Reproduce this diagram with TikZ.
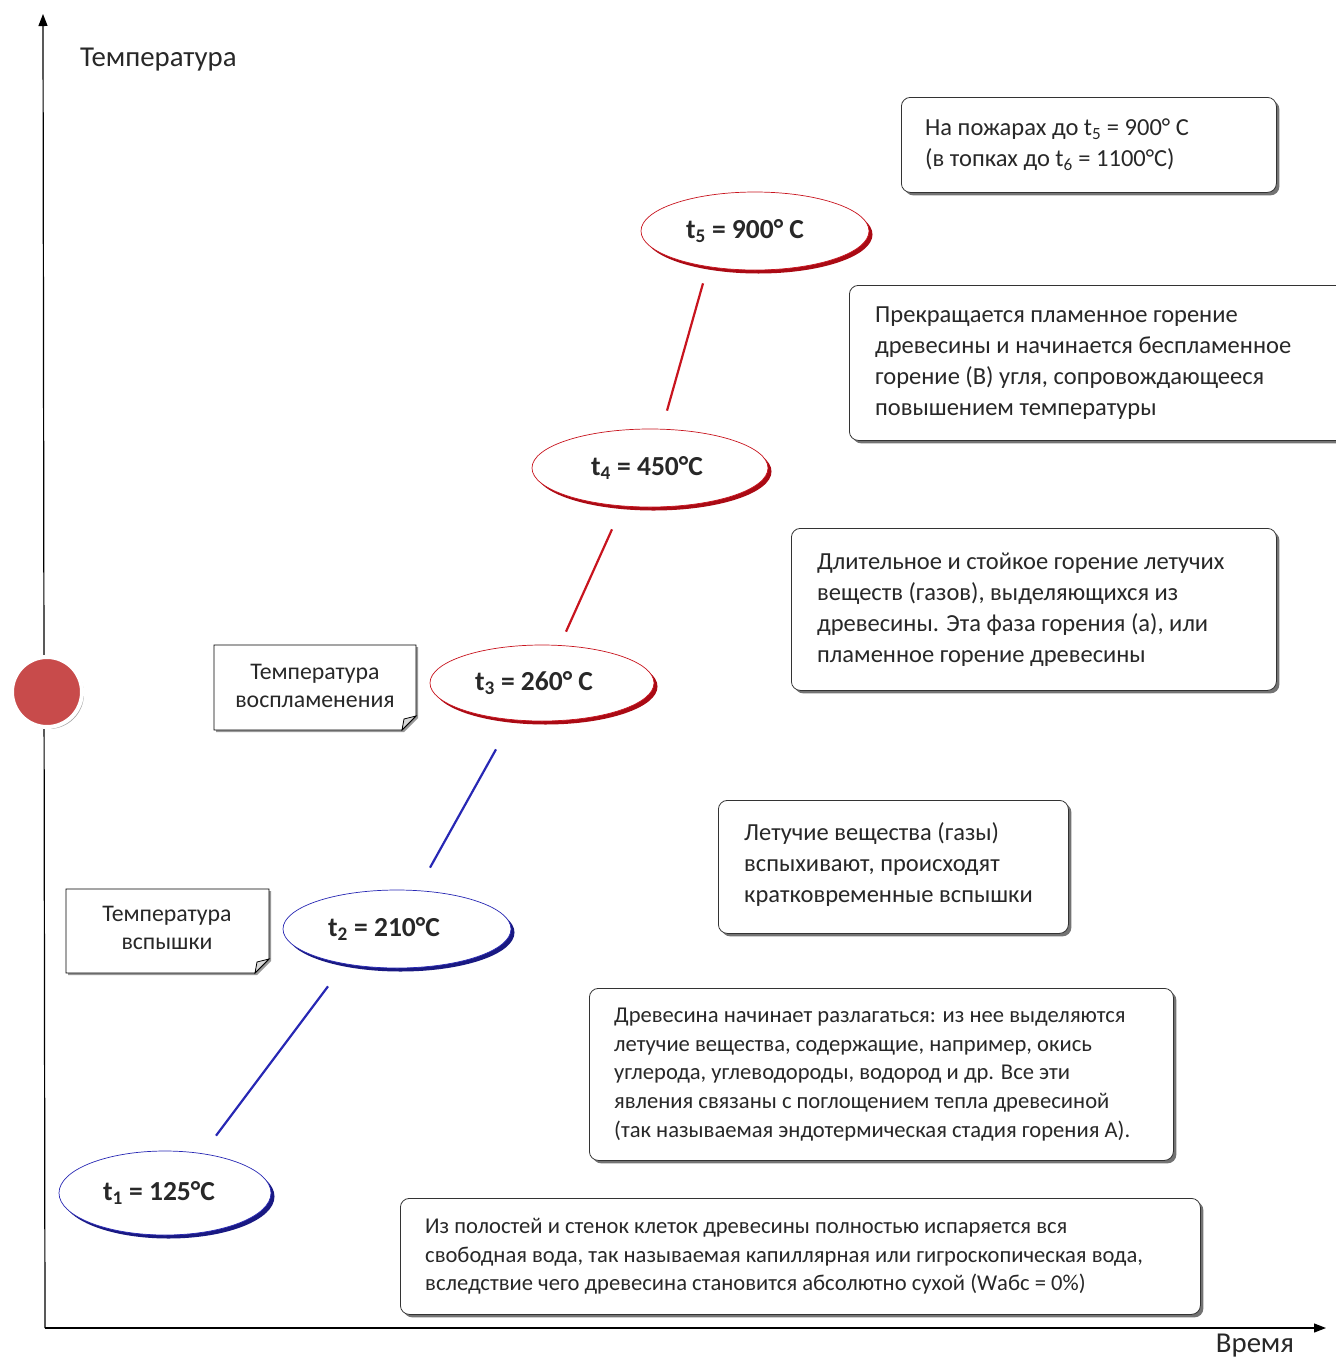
\documentclass[tikz,border=0pt]{standalone}
\usepackage{fontspec}
\setmainfont{Carlito}
\usetikzlibrary{shapes.geometric,shadows,arrows.meta}
\definecolor{txt}{RGB}{40,40,40}
\definecolor{redl}{RGB}{200,20,30}
\definecolor{redd}{RGB}{170,10,20}
\definecolor{bluel}{RGB}{40,40,180}
\definecolor{blued}{RGB}{25,25,130}
\definecolor{dotred}{RGB}{200,75,75}
\begin{document}
\begin{tikzpicture}[x=1pt,y=-1pt,
  every node/.style={text=txt},
  ell/.style={ellipse, fill=white, line width=0.7pt, minimum width=228, minimum height=78,
    font=\bfseries\fontsize{27.5}{30}\selectfont},
  redell/.style={ell, draw=redl, drop shadow={shadow xshift=3.5pt, shadow yshift=-3.5pt, fill=redd, opacity=1}},
  blueell/.style={ell, draw=bluel, drop shadow={shadow xshift=3.5pt, shadow yshift=-3.5pt, fill=blued, opacity=1}},
  infobox/.style={draw=black!80, line width=0.8pt, rounded corners=9pt, fill=white, anchor=north west,
    inner sep=0pt,
    drop shadow={shadow xshift=3pt, shadow yshift=-3pt, fill=black!55, opacity=1}},
  boxtxt/.style={anchor=west, align=left, inner sep=0pt},
  bigtxt/.style={boxtxt, font=\fontsize{24.5}{31}\selectfont},
  smalltxt/.style={boxtxt, font=\fontsize{22.6}{28.8}\selectfont},
  redline/.style={draw=redl, line width=2.2pt},
  blueline/.style={draw=bluel, line width=2.2pt},
  notetxt/.style={font=\fontsize{23.8}{28}\selectfont, align=center, inner sep=0pt},
  axislab/.style={font=\fontsize{28.8}{32}\selectfont},
]
\useasboundingbox (0,0) rectangle (1336,1358);

% axes
\coordinate (o) at (45,1328);
\coordinate (ytop) at (43,14);
\coordinate (xend) at (1326,1328);
\draw[line width=1.2pt, -{Triangle[length=12pt,width=9pt]}] (o) -- (ytop);
\draw[line width=1.2pt, -{Triangle[length=12pt,width=9pt]}] (o) -- (xend);
\node[axislab, anchor=west, inner sep=0pt] (ylab) at (80,60) {Температура};
\node[axislab] (xlab) at (1255,1346) {Время};

% red dot on axis
\node[circle, fill=dotred, draw=white, line width=4pt, minimum size=70,
  drop shadow={shadow xshift=2pt, shadow yshift=-2pt, fill=black!35, opacity=1}] (dot) at (47,692) {};

% ellipses
\node[redell] (t5) at (755,231) {\kern-20pt t\textsubscript{5} = 900° C};
\node[redell, minimum width=236] (t4) at (650,468) {\kern-6pt t\textsubscript{4} = 450°C};
\node[redell, minimum width=224, minimum height=76] (t3) at (542,683) {\kern-16pt t\textsubscript{3} = 260° C};
\node[blueell] (t2) at (397,929) {\kern-26pt t\textsubscript{2} = 210°C};
\node[blueell, minimum width=212, minimum height=84] (t1) at (165,1193) {\kern-12pt t\textsubscript{1} = 125°C};

% connectors
\draw[redline] ([shift={(17,-18)}]t4.north) -- ([shift={(-52,13)}]t5.south);
\draw[redline] ([shift={(24,-13)}]t3.north) -- ([shift={(-38,22)}]t4.south);
\draw[blueline] ([shift={(33,-22)}]t2.north) -- ([shift={(-46,28)}]t3.south);
\draw[blueline] ([shift={(51,-15)}]t1.north) -- ([shift={(-69,18)}]t2.south);

% info boxes
\node[infobox, minimum width=375, minimum height=95] (b1) at (901,97) {};
\node[bigtxt] (b1t) at ([xshift=24]b1.west)
  {На пожарах до t\textsubscript{5} = 900° C\\(в топках до t\textsubscript{6} = 1100°C)};
\node[infobox, minimum width=500, minimum height=155] (b2) at (849,285) {};
\node[bigtxt] (b2t) at ([xshift=26]b2.west)
  {Прекращается пламенное горение\\древесины и начинается беспламенное\\горение (В) угля, сопровождающееся\\повышением температуры};
\node[infobox, minimum width=485, minimum height=162] (b3) at (791,528) {};
\node[bigtxt] (b3t) at ([xshift=26]b3.west)
  {Длительное и стойкое горение летучих\\веществ (газов), выделяющихся из\\древесины. Эта фаза горения (а), или\\пламенное горение древесины};
\node[infobox, minimum width=350, minimum height=133] (b4) at (718,800) {};
\node[bigtxt] (b4t) at ([xshift=26,yshift=2]b4.west)
  {Летучие вещества (газы)\\вспыхивают, происходят\\кратковременные вспышки};
\node[infobox, minimum width=584, minimum height=172] (b5) at (589,988) {};
\node[smalltxt] (b5t) at ([xshift=25]b5.west)
  {Древесина начинает разлагаться: из нее выделяются\\летучие вещества, содержащие, например, окись\\углерода, углеводороды, водород и др. Все эти\\явления связаны с поглощением тепла древесиной\\(так называемая эндотермическая стадия горения А).};
\node[infobox, minimum width=800, minimum height=116] (b6) at (400,1198) {};
\node[smalltxt] (b6t) at ([xshift=25]b6.west)
  {Из полостей и стенок клеток древесины полностью испаряется вся\\свободная вода, так называемая капиллярная или гигроскопическая вода,\\вследствие чего древесина становится абсолютно сухой (Wабс = 0\%)};

% note boxes with folded corner
\draw[line width=0.8pt, fill=white, drop shadow={shadow xshift=2pt, shadow yshift=-2pt, fill=black!40, opacity=1}]
  (214,645) -- (416,645) -- (416,716) -- (402,730) -- (214,730) -- cycle;
\node[notetxt] (n1) at (315,686) {Температура\\воспламенения};
\draw[line width=0.8pt, fill=black!15] (416,716) -- (404,719) -- (402,730) -- cycle;

\draw[line width=0.8pt, fill=white, drop shadow={shadow xshift=2pt, shadow yshift=-2pt, fill=black!40, opacity=1}]
  (66,889) -- (269,889) -- (269,959) -- (255,973) -- (66,973) -- cycle;
\node[notetxt] (n2) at (167,928) {Температура\\вспышки};
\draw[line width=0.8pt, fill=black!15] (269,959) -- (257,962) -- (255,973) -- cycle;
\end{tikzpicture}
\end{document}
